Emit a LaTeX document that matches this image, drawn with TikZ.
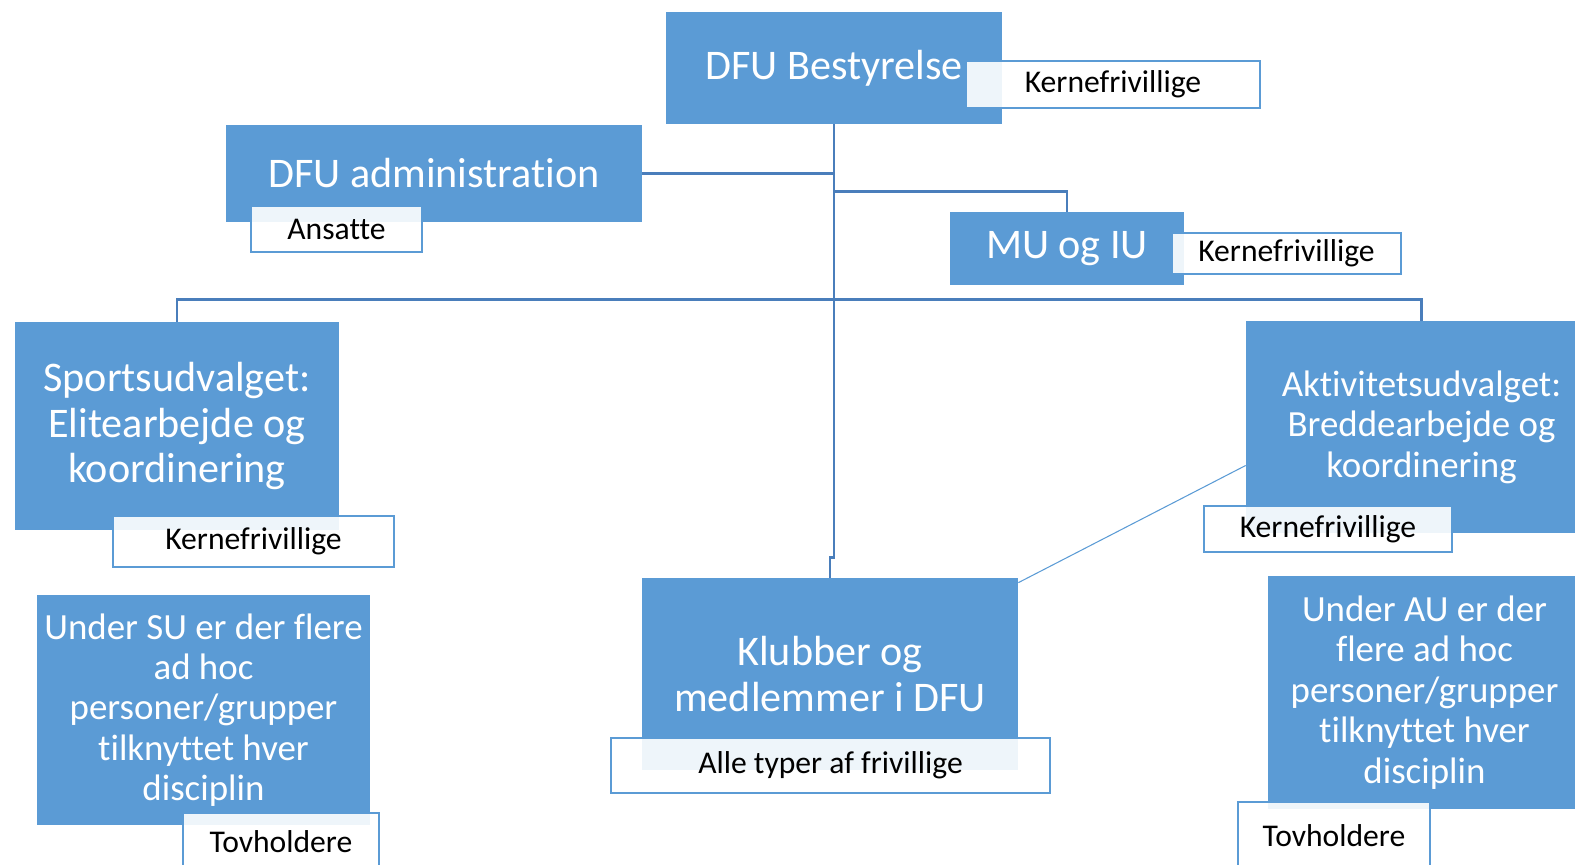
\documentclass[tikz,border=0pt]{standalone}
\usepackage{fontspec}
\setmainfont{Carlito}[RawFeature={-liga;-clig;-calt}]
\usepackage{tikz}
\usetikzlibrary{calc}
\definecolor{unitblue}{RGB}{91, 155, 213}
\definecolor{linkblue}{RGB}{74, 126, 187}
\tikzset{
	boxsize/.style 2 args={minimum width=#1*0.02cm, minimum height=#2*0.02cm},
	unitbox/.style={fill=unitblue, text=white, align=center, inner sep=0pt, font=\fontsize{24}{26}\selectfont},
	smallunit/.style={unitbox, font=\fontsize{21}{23}\selectfont},
	tagbox/.style={draw=unitblue, line width=0.9pt, fill=white, fill opacity=0.9, text opacity=1, text=black, inner sep=0pt, font=\fontsize{18}{20}\selectfont},
	link/.style={draw=linkblue, line width=1.4pt}
}

\begin{document}
\begin{tikzpicture}[x=0.02cm, y=-0.02cm]
			% units
			\node[unitbox, boxsize={336}{112}] (board) at (834,68) {DFU Bestyrelse};
			\node[unitbox, boxsize={416}{97}] (admin) at (434,173.5) {DFU administration};
			\node[unitbox, boxsize={234}{73}] (muiu) at (1067,248.5) {MU og IU};
			\node[unitbox, boxsize={324}{208}] (sport) at (177,426) {Sportsudvalget:\\Elitearbejde og\\koordinering};
			\node[smallunit, boxsize={351}{212}] (activ) at (1421.5,427) {Aktivitetsudvalget:\\Breddearbejde og\\koordinering};
			\node[unitbox, boxsize={376}{192}] (clubs) at (830,674) {Klubber og\\medlemmer i DFU};
			\node[smallunit, boxsize={333}{230}] (suadhoc) at (203.5,710) {Under SU er der flere\\ad hoc\\personer/grupper\\tilknyttet hver\\disciplin};
			\node[smallunit, boxsize={313}{233}] (auadhoc) at (1424.5,692.5) {Under AU er der\\flere ad hoc\\personer/grupper\\tilknyttet hver\\disciplin};

			% who does the work
			\node[tagbox, boxsize={294}{47}] (boardvol) at (1113,84.5) {Kernefrivillige};
			\node[tagbox, boxsize={171}{46}] (adminstaff) at (336.5,229) {Ansatte};
			\node[tagbox, boxsize={229}{41}] (muiuvol) at (1286.5,253.5) {Kernefrivillige};
			\node[tagbox, boxsize={281}{51}] (sportvol) at (253.5,541.5) {Kernefrivillige};
			\node[tagbox, boxsize={248}{46}] (activvol) at (1328,529) {Kernefrivillige};
			\node[tagbox, boxsize={439}{55}] (clubsvol) at (830.5,765.5) {Alle typer af frivillige};
			\node[tagbox, boxsize={196}{57}] (sulead) at (281,841.5) {Tovholdere};
			\node[tagbox, boxsize={192}{68}] (aulead) at (1334,836) {Tovholdere};

			\draw[link] (board.south) -- ++(0,433) -| (clubs.north);
			\draw[link] (admin.east) -- (admin.east -| board.south);
			\draw[link] (muiu.north) -- ++(0,-20) -| (board.south);
			\draw[link] (sport.north) -- ++(0,-22) -| (activ.north);
			\draw[unitblue, line width=0.6pt] ([yshift=-0.1cm]clubs.north east) -- ([yshift=-0.77cm]activ.west);

			\pgfresetboundingbox
			\useasboundingbox (0,0) rectangle (1575,865);
		 \end{tikzpicture}
\end{document}
